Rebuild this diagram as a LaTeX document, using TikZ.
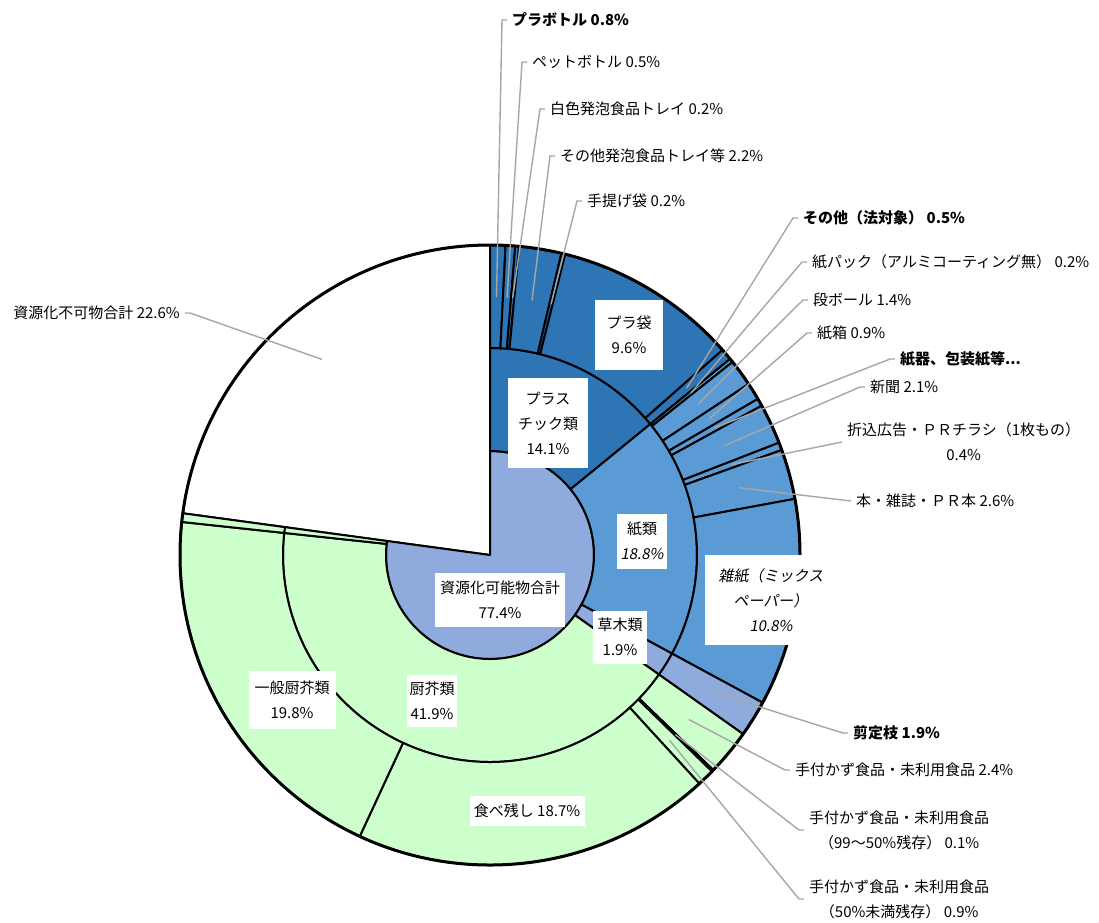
\documentclass[tikz,border=0pt]{standalone}
\usepackage{fontspec}
\setmainfont{Noto Sans CJK JP}
\newfontfamily\jpit{Noto Sans CJK JP}[FakeSlant=0.18]
\definecolor{plas}{HTML}{2E75B6}
\definecolor{papr}{HTML}{5B9BD5}
\definecolor{lav}{HTML}{8FAADC}
\definecolor{grn}{HTML}{CCFFCC}
\definecolor{leadgray}{HTML}{A6A6A6}
\newcommand\ringseg[5]{%
  \pgfmathsetmacro\rsA{3.6*(#4)-90}%
  \pgfmathsetmacro\rsB{3.6*(#5)-90}%
  \filldraw[segline,fill=#1] (\rsA:#2) -- (\rsA:#3) arc[start angle=\rsA,end angle=\rsB,radius=#3] -- (\rsB:#2) arc[start angle=\rsB,end angle=\rsA,radius=#2] -- cycle;}
\newcommand\pieseg[4]{%
  \pgfmathsetmacro\rsA{3.6*(#3)-90}%
  \pgfmathsetmacro\rsB{3.6*(#4)-90}%
  \filldraw[segline,fill=#1] (0,0) -- (\rsA:#2) arc[start angle=\rsA,end angle=\rsB,radius=#2] -- cycle;}
\begin{document}
\begin{tikzpicture}[x=1pt,y=-1pt,
  segline/.style={draw=black,line width=2pt,line join=round},
  leader/.style={draw=leadgray,line width=1.4pt},
  olbl/.style={font=\fontsize{15}{25}\selectfont,inner xsep=5pt,inner ysep=2pt,align=center},
  olblb/.style={olbl,font=\fontsize{15}{25}\selectfont\bfseries},
  ilbl/.style={fill=white,font=\fontsize{15}{25}\selectfont,inner sep=0pt,align=center}]
\useasboundingbox (0,0) rectangle (1099,922);
\fill[white] (0,0) rectangle (1099,922);
\begin{scope}[shift={(490,555)}]
  \coordinate (C) at (0,0);
  \pieseg{white}{310}{77.15}{100}
  \pieseg{lav}{104}{0}{77.15}
  % middle ring
  \ringseg{plas}{104}{207}{0}{14.1}
  \ringseg{papr}{104}{207}{14.1}{32.9}
  \ringseg{lav}{104}{207}{32.9}{34.8}
  \ringseg{grn}{104}{207}{34.8}{76.7}
  \ringseg{grn}{104}{207}{76.7}{77.15}
  % outer ring plastics
  \ringseg{plas}{207}{310}{0}{0.8}
  \ringseg{plas}{207}{310}{0.8}{1.3}
  \ringseg{plas}{207}{310}{1.3}{1.5}
  \ringseg{plas}{207}{310}{1.5}{3.7}
  \ringseg{plas}{207}{310}{3.7}{3.9}
  \ringseg{plas}{207}{310}{3.9}{13.5}
  \ringseg{plas}{207}{310}{13.5}{14.1}
  % outer ring paper
  \ringseg{papr}{207}{310}{14.1}{14.3}
  \ringseg{papr}{207}{310}{14.3}{15.7}
  \ringseg{papr}{207}{310}{15.7}{16.6}
  \ringseg{papr}{207}{310}{16.6}{17.0}
  \ringseg{papr}{207}{310}{17.0}{19.1}
  \ringseg{papr}{207}{310}{19.1}{19.5}
  \ringseg{papr}{207}{310}{19.5}{22.1}
  \ringseg{papr}{207}{310}{22.1}{32.9}
  % outer ring others
  \ringseg{lav}{207}{310}{32.9}{34.8}
  \ringseg{grn}{207}{310}{34.8}{37.2}
  \ringseg{grn}{207}{310}{37.2}{37.3}
  \ringseg{grn}{207}{310}{37.3}{38.2}
  \ringseg{grn}{207}{310}{38.2}{56.9}
  \ringseg{grn}{207}{310}{56.9}{76.7}
  \ringseg{grn}{207}{310}{76.7}{77.15}
  \draw[line width=3pt] (0,0) circle[radius=310];
  % leader start points
  \coordinate (sPB) at ({3.6*0.4-90}:258);
  \coordinate (sPET) at ({3.6*1.05-90}:258);
  \coordinate (sWT) at ({3.6*1.4-90}:258);
  \coordinate (sOT) at ({3.6*2.6-90}:258);
  \coordinate (sTS) at ({3.6*3.8-90}:258);
  \coordinate (sSO) at ({3.6*13.8-90}:258);
  \coordinate (sKP) at ({3.6*14.2-90}:258);
  \coordinate (sDB) at ({3.6*15.0-90}:258);
  \coordinate (sKB) at ({3.6*16.15-90}:258);
  \coordinate (sKK) at ({3.6*16.8-90}:258);
  \coordinate (sSB) at ({3.6*18.05-90}:258);
  \coordinate (sOK) at ({3.6*19.3-90}:258);
  \coordinate (sHZ) at ({3.6*20.8-90}:258);
  \coordinate (sSN) at ({3.6*33.85-90}:258);
  \coordinate (sT24) at ({3.6*36.0-90}:258);
  \coordinate (sT01) at ({3.6*37.25-90}:258);
  \coordinate (sT09) at ({3.6*37.75-90}:258);
  \coordinate (sFK) at ({3.6*88.7-90}:258);
\end{scope}
% kinks
\coordinate (kPB) at (502,20);
\coordinate (kPET) at (522,62);
\coordinate (kWT) at (540,109);
\coordinate (kOT) at (550,156);
\coordinate (kTS) at (577,201);
\coordinate (kSO) at (793,218);
\coordinate (kKP) at (802,262);
\coordinate (kDB) at (803,300);
\coordinate (kKB) at (807,333);
\coordinate (kKK) at (890,359);
\coordinate (kSB) at (860,387);
\coordinate (kSN) at (843,733);
\coordinate (kT24) at (785,770);
\coordinate (kT01) at (799,830);
\coordinate (kT09) at (799,899);
\coordinate (kFK) at (190,313);
% outer labels
\node[olblb,anchor=west] (lPB) at (507,20) {プラボトル 0.8\%};
\node[olbl,anchor=west] (lPET) at (527,62) {ペットボトル 0.5\%};
\node[olbl,anchor=west] (lWT) at (545,109) {白色発泡食品トレイ 0.2\%};
\node[olbl,anchor=west] (lOT) at (555,156) {その他発泡食品トレイ等 2.2\%};
\node[olbl,anchor=west] (lTS) at (582,201) {手提げ袋 0.2\%};
\node[olblb,anchor=west] (lSO) at (798,218) {その他（法対象） 0.5\%};
\node[olbl,anchor=west] (lKP) at (807,262) {紙パック（アルミコーティング無） 0.2\%};
\node[olbl,anchor=west] (lDB) at (808,300) {段ボール 1.4\%};
\node[olbl,anchor=west] (lKB) at (812,333) {紙箱 0.9\%};
\node[olblb,anchor=west] (lKK) at (895,359) {紙器、包装紙等...};
\node[olbl,anchor=west] (lSB) at (865,387) {新聞 2.1\%};
\node[olbl,anchor=west] (lOK) at (842,442) {折込広告・ＰＲチラシ（1枚もの）\\0.4\%};
\node[olbl,anchor=west] (lHZ) at (851,501) {本・雑誌・ＰＲ本 2.6\%};
\node[olblb,anchor=west] (lSN) at (848,733) {剪定枝 1.9\%};
\node[olbl,anchor=west] (lT24) at (790,770) {手付かず食品・未利用食品 2.4\%};
\node[olbl,anchor=west] (lT01) at (804,830) {手付かず食品・未利用食品\\（99～50\%残存） 0.1\%};
\node[olbl,anchor=west] (lT09) at (804,899) {手付かず食品・未利用食品\\（50\%未満残存） 0.9\%};
\node[olbl,anchor=east] (lFK) at (185,313) {資源化不可物合計 22.6\%};
% leaders
\draw[leader] (sPB) -- (kPB) -- (lPB.west);
\draw[leader] (sPET) -- (kPET) -- (lPET.west);
\draw[leader] (sWT) -- (kWT) -- (lWT.west);
\draw[leader] (sOT) -- (kOT) -- (lOT.west);
\draw[leader] (sTS) -- (kTS) -- (lTS.west);
\draw[leader] (sSO) -- (kSO) -- (lSO.west);
\draw[leader] (sKP) -- (kKP) -- (lKP.west);
\draw[leader] (sDB) -- (kDB) -- (lDB.west);
\draw[leader] (sKB) -- (kKB) -- (lKB.west);
\draw[leader] (sKK) -- (kKK) -- (lKK.west);
\draw[leader] (sSB) -- (kSB) -- (lSB.west);
\draw[leader] (sOK) -- (lOK.west);
\draw[leader] (sHZ) -- (lHZ.west);
\draw[leader] (sSN) -- (kSN) -- (lSN.west);
\draw[leader] (sT24) -- (kT24) -- (lT24.west);
\draw[leader] (sT01) -- (kT01) -- (lT01.west);
\draw[leader] (sT09) -- (kT09) -- (lT09.west);
\draw[leader] (sFK) -- (kFK) -- (lFK.east);
% inner labels
\node[ilbl,minimum width=80pt,minimum height=90pt] (nPL) at (548,423) {プラス\\チック類\\14.1\%};
\node[ilbl,minimum width=68pt,minimum height=70pt] (nPB) at (629,335) {プラ袋\\9.6\%};
\node[ilbl,minimum width=50pt,minimum height=55pt] (nKR) at (642,541) {紙類\\{\jpit 18.8\%}};
\node[ilbl,minimum width=130pt,minimum height=54pt] (nSK) at (500,600) {資源化可能物合計\\77.4\%};
\node[ilbl,minimum width=54pt,minimum height=53pt] (nSM) at (620,637) {草木類\\1.9\%};
\node[ilbl,minimum width=50pt,minimum height=52pt] (nCK) at (432,701) {厨芥類\\41.9\%};
\node[ilbl,minimum width=87pt,minimum height=58pt] (nIP) at (292,700) {一般厨芥類\\19.8\%};
\node[ilbl,minimum width=115pt,minimum height=30pt] (nTN) at (527,811) {食べ残し 18.7\%};
\node[ilbl,minimum width=132pt,minimum height=90pt,font=\fontsize{15}{25}\selectfont\jpit] (nZS) at (771,600) {雑紙（ミックス\\ペーパー）\\10.8\%};
\end{tikzpicture}
\end{document}
